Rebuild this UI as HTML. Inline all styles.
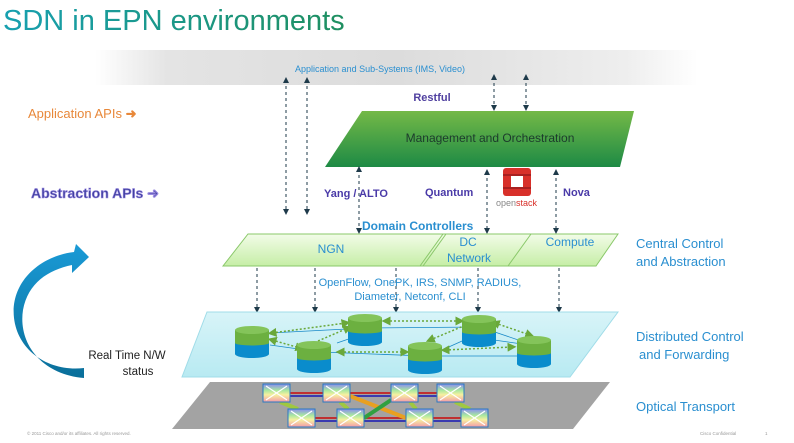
<!DOCTYPE html>
<html><head><meta charset="utf-8"><style>
html,body{margin:0;padding:0;background:#fff;}
svg{display:block;font-family:"Liberation Sans",Arial,sans-serif;}
</style></head><body>
<svg width="794" height="443" viewBox="0 0 794 443" xmlns="http://www.w3.org/2000/svg">
<defs>
<linearGradient id="title" x1="0" x2="1" y1="0" y2="0">
<stop offset="0" stop-color="#17a0b0"/><stop offset="1" stop-color="#1f8f60"/>
</linearGradient>
<linearGradient id="band" x1="0" x2="1" y1="0" y2="0">
<stop offset="0" stop-color="#fff"/><stop offset="0.12" stop-color="#e4e4e4"/><stop offset="0.5" stop-color="#dcdcdc"/><stop offset="0.88" stop-color="#eeeeee"/><stop offset="1" stop-color="#fff"/>
</linearGradient>
<linearGradient id="mgmt" x1="0" x2="0" y1="0" y2="1">
<stop offset="0" stop-color="#74b947"/><stop offset="1" stop-color="#1d8a45"/>
</linearGradient>
<linearGradient id="dom" x1="0" x2="0" y1="0" y2="1">
<stop offset="0" stop-color="#f2fce8"/><stop offset="1" stop-color="#c6eea6"/>
</linearGradient>
<linearGradient id="dist" x1="0" x2="0" y1="0" y2="1">
<stop offset="0" stop-color="#d8f4f8"/><stop offset="1" stop-color="#b8eaf2"/>
</linearGradient>
<linearGradient id="sw" x1="0" x2="0" y1="0" y2="1">
<stop offset="0" stop-color="#8a8cf0"/><stop offset="0.35" stop-color="#a8e8a0"/><stop offset="0.6" stop-color="#f6f0a0"/><stop offset="1" stop-color="#f49aa8"/>
</linearGradient>
<linearGradient id="arr" x1="0" x2="0" y1="0" y2="1">
<stop offset="0" stop-color="#1a9ad6"/><stop offset="1" stop-color="#0a6f9a"/>
</linearGradient>
<marker id="ah" markerWidth="6" markerHeight="6" refX="3" refY="3" orient="auto-start-reverse"><path d="M0,0 L6,3 L0,6 z" fill="#1e3a4a"/></marker>
<marker id="gh" markerWidth="6" markerHeight="6" refX="3" refY="3" orient="auto-start-reverse"><path d="M0,0 L6,3 L0,6 z" fill="#6aa83a"/></marker>
</defs>

<text x="3" y="30" font-size="29" fill="url(#title)">SDN in EPN environments</text>

<rect x="95" y="50" width="603" height="35" fill="url(#band)"/>
<text x="380" y="72" font-size="9" fill="#2a8fd0" text-anchor="middle">Application and Sub-Systems (IMS, Video)</text>

<text x="28" y="118" font-size="13" fill="#e8883a">Application APIs <tspan font-weight="bold">➜</tspan></text>
<text x="31" y="198" font-size="14" font-weight="bold" fill="#4040a0" stroke="#9a8ae0" stroke-width="0.6">Abstraction APIs ➜</text>

<text x="432" y="101" font-size="11" font-weight="bold" fill="#5040a0" text-anchor="middle">Restful</text>

<polygon points="362,111 634,111 620,167 325,167" fill="url(#mgmt)"/>
<text x="490" y="142" font-size="12" fill="#1c3a2c" text-anchor="middle">Management  and Orchestration</text>

<g stroke="#1e3a4a" stroke-width="1" stroke-dasharray="3,3" fill="none">
<line x1="286" y1="80" x2="286" y2="212" marker-start="url(#ah)" marker-end="url(#ah)"/>
<line x1="307" y1="80" x2="307" y2="212" marker-start="url(#ah)" marker-end="url(#ah)"/>
<line x1="494" y1="77" x2="494" y2="108" marker-start="url(#ah)" marker-end="url(#ah)"/>
<line x1="526" y1="77" x2="526" y2="108" marker-start="url(#ah)" marker-end="url(#ah)"/>
<line x1="359" y1="169" x2="359" y2="231" marker-start="url(#ah)" marker-end="url(#ah)"/>
<line x1="487" y1="172" x2="487" y2="231" marker-start="url(#ah)" marker-end="url(#ah)"/>
<line x1="556" y1="172" x2="556" y2="231" marker-start="url(#ah)" marker-end="url(#ah)"/>
<line x1="257" y1="268" x2="257" y2="310" marker-end="url(#ah)"/>
<line x1="315" y1="268" x2="315" y2="310" marker-end="url(#ah)"/>
<line x1="396" y1="268" x2="396" y2="310" marker-end="url(#ah)"/>
<line x1="478" y1="268" x2="478" y2="310" marker-end="url(#ah)"/>
<line x1="559" y1="268" x2="559" y2="310" marker-end="url(#ah)"/>
</g>

<g font-size="11" font-weight="bold" fill="#4a3aa8">
<text x="324" y="197">Yang / ALTO</text>
<text x="425" y="196">Quantum</text>
<text x="563" y="196">Nova</text>
</g>
<g>
<rect x="503" y="168" width="28" height="28" rx="3" fill="#d8302a"/>
<rect x="511" y="175" width="12" height="13" fill="#fff"/>
<rect x="503" y="174" width="28" height="2" fill="#a82020"/>
<rect x="503" y="187" width="28" height="2" fill="#a82020"/>
<text x="496" y="206" font-size="9" fill="#888">open<tspan fill="#d8302a">stack</tspan></text>
</g>

<text x="362" y="230" font-size="12" font-weight="bold" fill="#2a8fd0">Domain Controllers</text>

<polygon points="248,234 618,234 596,266 223,266" fill="url(#dom)" stroke="#8ac86a" stroke-width="1"/>
<line x1="443" y1="234" x2="420" y2="266" stroke="#8ac86a"/>
<line x1="446" y1="234" x2="423" y2="266" stroke="#8ac86a"/>
<line x1="531" y1="234" x2="508" y2="266" stroke="#8ac86a"/>
<g font-size="12" fill="#2a8fd0" text-anchor="middle">
<text x="331" y="253">NGN</text>
<text x="468" y="246">DC</text>
<text x="469" y="262">Network</text>
<text x="570" y="246">Compute</text>
</g>

<g font-size="13" fill="#2a8fd0">
<text x="636" y="248">Central Control</text>
<text x="636" y="266">and Abstraction</text>
<text x="636" y="341">Distributed Control</text>
<text x="639" y="359">and Forwarding</text>
<text x="636" y="411">Optical Transport</text>
</g>

<text x="420" y="286" font-size="11" fill="#2a8fd0" text-anchor="middle">OpenFlow, OnePK, IRS, SNMP, RADIUS,</text>
<text x="410" y="300" font-size="11" fill="#2a8fd0" text-anchor="middle">Diameter, Netconf, CLI</text>

<polygon points="207,312 618,312 570,377 182,377" fill="url(#dist)" stroke="#a0dce8"/>

<g stroke="#1a8ac8" stroke-width="0.8" fill="none">
<polyline points="270,333 366,328 480,327 536,346 480,338"/>
<polyline points="270,345 320,352 425,356 536,356"/>
<line x1="337" y1="343" x2="366" y2="333"/>
<line x1="442" y1="350" x2="480" y2="333"/>
</g>
<g stroke="#6aa83a" stroke-width="1.5" stroke-dasharray="2,2" fill="none">
<line x1="272" y1="333" x2="346" y2="323" marker-start="url(#gh)" marker-end="url(#gh)"/>
<line x1="272" y1="340" x2="300" y2="348" marker-start="url(#gh)" marker-end="url(#gh)"/>
<line x1="318" y1="341" x2="348" y2="328" marker-end="url(#gh)"/>
<line x1="386" y1="321" x2="460" y2="321" marker-start="url(#gh)" marker-end="url(#gh)"/>
<line x1="340" y1="352" x2="405" y2="352" marker-start="url(#gh)" marker-end="url(#gh)"/>
<line x1="445" y1="350" x2="512" y2="347" marker-start="url(#gh)" marker-end="url(#gh)"/>
<line x1="495" y1="323" x2="530" y2="335" marker-start="url(#gh)" marker-end="url(#gh)"/>
<line x1="430" y1="340" x2="466" y2="325" marker-start="url(#gh)"/>
</g>

<g id="cyls">
<g transform="translate(235,326)"><rect x="0" y="4" width="34" height="24" fill="#0a8ccc"/><ellipse cx="17" cy="28" rx="17" ry="4" fill="#0a8ccc"/><rect x="0" y="4" width="34" height="13" fill="#6cb040"/><ellipse cx="17" cy="17" rx="17" ry="2.5" fill="#6cb040"/><ellipse cx="17" cy="4" rx="17" ry="4" fill="#84c45a"/></g>
<g transform="translate(297,341)"><rect x="0" y="4" width="34" height="24" fill="#0a8ccc"/><ellipse cx="17" cy="28" rx="17" ry="4" fill="#0a8ccc"/><rect x="0" y="4" width="34" height="13" fill="#6cb040"/><ellipse cx="17" cy="17" rx="17" ry="2.5" fill="#6cb040"/><ellipse cx="17" cy="4" rx="17" ry="4" fill="#84c45a"/></g>
<g transform="translate(348,314)"><rect x="0" y="4" width="34" height="24" fill="#0a8ccc"/><ellipse cx="17" cy="28" rx="17" ry="4" fill="#0a8ccc"/><rect x="0" y="4" width="34" height="13" fill="#6cb040"/><ellipse cx="17" cy="17" rx="17" ry="2.5" fill="#6cb040"/><ellipse cx="17" cy="4" rx="17" ry="4" fill="#84c45a"/></g>
<g transform="translate(408,342)"><rect x="0" y="4" width="34" height="24" fill="#0a8ccc"/><ellipse cx="17" cy="28" rx="17" ry="4" fill="#0a8ccc"/><rect x="0" y="4" width="34" height="13" fill="#6cb040"/><ellipse cx="17" cy="17" rx="17" ry="2.5" fill="#6cb040"/><ellipse cx="17" cy="4" rx="17" ry="4" fill="#84c45a"/></g>
<g transform="translate(462,315)"><rect x="0" y="4" width="34" height="24" fill="#0a8ccc"/><ellipse cx="17" cy="28" rx="17" ry="4" fill="#0a8ccc"/><rect x="0" y="4" width="34" height="13" fill="#6cb040"/><ellipse cx="17" cy="17" rx="17" ry="2.5" fill="#6cb040"/><ellipse cx="17" cy="4" rx="17" ry="4" fill="#84c45a"/></g>
<g transform="translate(517,336)"><rect x="0" y="4" width="34" height="24" fill="#0a8ccc"/><ellipse cx="17" cy="28" rx="17" ry="4" fill="#0a8ccc"/><rect x="0" y="4" width="34" height="13" fill="#6cb040"/><ellipse cx="17" cy="17" rx="17" ry="2.5" fill="#6cb040"/><ellipse cx="17" cy="4" rx="17" ry="4" fill="#84c45a"/></g>
</g>

<polygon points="210,382 610,382 573,429 172,429" fill="#a3a3a3"/>
<g stroke-width="2" fill="none">
<line x1="290" y1="393" x2="463" y2="393" stroke="#c03030"/>
<line x1="290" y1="396" x2="463" y2="396" stroke="#3a3ab0"/>
<line x1="315" y1="418" x2="488" y2="418" stroke="#c03030"/>
<line x1="315" y1="421" x2="488" y2="421" stroke="#3a3ab0"/>
<line x1="350" y1="396" x2="406" y2="418" stroke="#e8a020" stroke-width="4"/>
<line x1="364" y1="418" x2="391" y2="400" stroke="#30a040" stroke-width="4"/>
<line x1="280" y1="402" x2="298" y2="409" stroke="#a0c840" stroke-width="4"/>
<line x1="340" y1="402" x2="348" y2="409" stroke="#a0c840" stroke-width="4"/>
<line x1="410" y1="402" x2="416" y2="409" stroke="#a0c840" stroke-width="4"/>
<line x1="455" y1="402" x2="470" y2="409" stroke="#a0c840" stroke-width="4"/>
</g>
<g stroke="#2a7ac0" stroke-width="1">
<rect x="263" y="384" width="27" height="18" fill="url(#sw)"/>
<rect x="323" y="384" width="27" height="18" fill="url(#sw)"/>
<rect x="391" y="384" width="27" height="18" fill="url(#sw)"/>
<rect x="437" y="384" width="27" height="18" fill="url(#sw)"/>
<rect x="288" y="409" width="27" height="18" fill="url(#sw)"/>
<rect x="337" y="409" width="27" height="18" fill="url(#sw)"/>
<rect x="406" y="409" width="27" height="18" fill="url(#sw)"/>
<rect x="461" y="409" width="27" height="18" fill="url(#sw)"/>
</g>
<g stroke="#fff" stroke-width="1.2">
<path d="M266,386 L287,400 M287,386 L266,400"/>
<path d="M326,386 L347,400 M347,386 L326,400"/>
<path d="M394,386 L415,400 M415,386 L394,400"/>
<path d="M440,386 L461,400 M461,386 L440,400"/>
<path d="M291,411 L312,425 M312,411 L291,425"/>
<path d="M340,411 L361,425 M361,411 L340,425"/>
<path d="M409,411 L430,425 M430,411 L409,425"/>
<path d="M464,411 L485,425 M485,411 L464,425"/>
</g>

<path d="M84,378 C40,374 18,342 23,310 C28,283 48,270 72,265 L72,273 L89,257 L76,244 L74,252 C40,256 10,282 14,318 C18,352 50,372 84,368 Z" fill="url(#arr)"/>

<text x="127" y="359" font-size="11.5" fill="#222" text-anchor="middle">Real Time N/W</text>
<text x="138" y="375" font-size="11.5" fill="#222" text-anchor="middle">status</text>

<text x="27" y="435" font-size="4.5" fill="#999">© 2011 Cisco and/or its affiliates. All rights reserved.</text>
<text x="700" y="435" font-size="4.5" fill="#999">Cisco Confidential</text>
<text x="765" y="435" font-size="4.5" fill="#999">1</text>
</svg>
</body></html>
